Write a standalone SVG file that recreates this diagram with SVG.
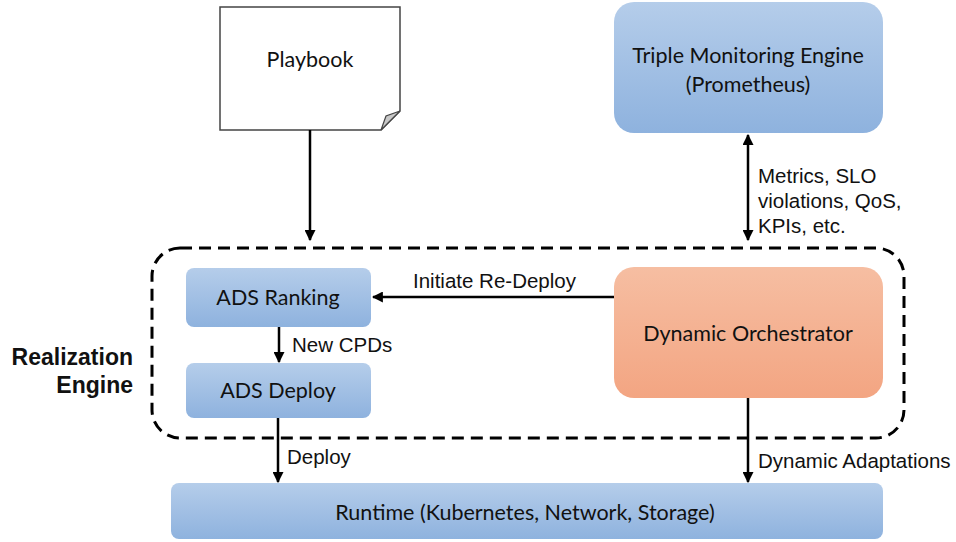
<svg xmlns="http://www.w3.org/2000/svg" width="956" height="542" viewBox="0 0 956 542">
<style>
.lbl{font-family:Lato,"Open Sans",sans-serif;font-size:21.5px;fill:#111;text-anchor:middle}
.al{font-family:"Liberation Sans",Arial,sans-serif;font-size:20.5px;fill:#111}
.bold{font-family:"Liberation Sans",Arial,sans-serif;font-size:23px;font-weight:bold;fill:#111;text-anchor:end}
.ln{stroke:#000;stroke-width:2.5;fill:none}
</style>
<defs>
<linearGradient id="blue" x1="0" y1="0" x2="0" y2="1"><stop offset="0" stop-color="#b5cdea"/><stop offset="1" stop-color="#8eb2de"/></linearGradient>
<linearGradient id="orange" x1="0" y1="0" x2="0" y2="1"><stop offset="0" stop-color="#f6bea2"/><stop offset="1" stop-color="#f3a582"/></linearGradient>
<marker id="ah" viewBox="0 0 10 10" refX="9" refY="5" markerWidth="4.4" markerHeight="4.4" orient="auto-start-reverse"><path d="M0,0 L10,5 L0,10 z" fill="#000"/></marker>
</defs>
<g id="realization-engine">
<rect x="152" y="248" width="752" height="190" rx="28" fill="none" stroke="#000" stroke-width="3" stroke-dasharray="12,7"/>
<text class="bold" x="133" y="365">Realization</text>
<text class="bold" x="133" y="393">Engine</text>
</g>
<g id="playbook">
<path d="M220,7 H400 V111 L381,130 H220 Z" fill="#fff" stroke="#444" stroke-width="1.5"/>
<path d="M400,111 L381,130 L386,116 Z" fill="#c8c8c8" stroke="#444" stroke-width="1.2"/>
<text class="lbl" x="310" y="67">Playbook</text>
</g>
<g id="monitoring">
<rect x="614" y="2" width="269" height="131" rx="20" fill="url(#blue)"/>
<text class="lbl" x="748" y="63">Triple Monitoring Engine</text>
<text class="lbl" x="748" y="92">(Prometheus)</text>
</g>
<g id="ads-ranking">
<rect x="186" y="268" width="185" height="59" rx="8" fill="url(#blue)"/>
<text class="lbl" x="278" y="305">ADS Ranking</text>
</g>
<g id="ads-deploy">
<rect x="186" y="363" width="185" height="55" rx="8" fill="url(#blue)"/>
<text class="lbl" x="278" y="398">ADS Deploy</text>
</g>
<g id="orchestrator">
<rect x="614" y="267" width="269" height="131" rx="20" fill="url(#orange)"/>
<text class="lbl" x="748" y="341">Dynamic Orchestrator</text>
</g>
<g id="runtime">
<rect x="171" y="483" width="712" height="56" rx="8" fill="url(#blue)"/>
<text class="lbl" x="525" y="520">Runtime (Kubernetes, Network, Storage)</text>
</g>
<g id="connectors">
<line class="ln" x1="310" y1="130" x2="310" y2="240" marker-end="url(#ah)"/>
<line class="ln" x1="748" y1="135" x2="748" y2="240" marker-start="url(#ah)" marker-end="url(#ah)"/>
<line class="ln" x1="614" y1="297" x2="373" y2="297" marker-end="url(#ah)"/>
<line class="ln" x1="279" y1="327" x2="279" y2="362" marker-end="url(#ah)"/>
<line class="ln" x1="278" y1="418" x2="278" y2="482" marker-end="url(#ah)"/>
<line class="ln" x1="748" y1="398" x2="748" y2="482" marker-end="url(#ah)"/>
<text class="al" x="413" y="288">Initiate Re-Deploy</text>
<text class="al" x="292" y="352">New CPDs</text>
<text class="al" x="287" y="464">Deploy</text>
<text class="al" x="758" y="468">Dynamic Adaptations</text>
<text class="al" x="758" y="183">Metrics, SLO</text>
<text class="al" x="758" y="208">violations, QoS,</text>
<text class="al" x="758" y="233">KPIs, etc.</text>
</g>
</svg>
